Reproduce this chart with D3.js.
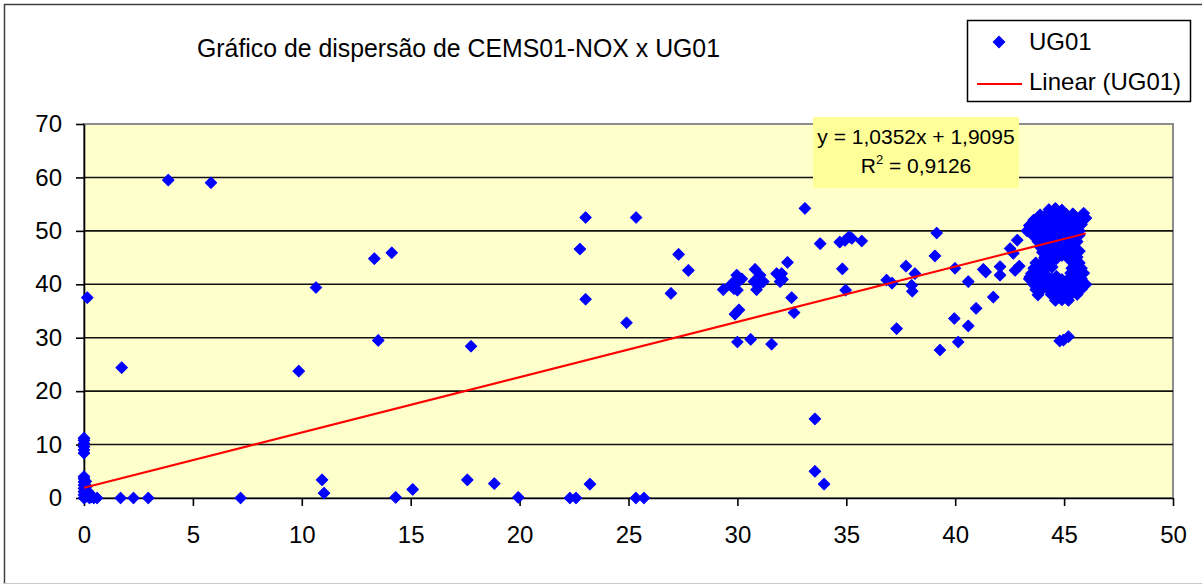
<!DOCTYPE html>
<html>
<head>
<meta charset="utf-8">
<script src="https://cdn.jsdelivr.net/npm/d3@7"></script>
<style>
  body { margin: 0; background: #fff; }
  text { font-family: "Liberation Sans", Arial, sans-serif; fill: #000; }
</style>
</head>
<body>
<div id="chart"></div>
<script>
// Data
const chartTitle = "Gráfico de dispersão de CEMS01-NOX x UG01"
const seriesName = "UG01"
const trendName = "Linear (UG01)"
const xTicks = [0, 5, 10, 15, 20, 25, 30, 35, 40, 45, 50]
const yTicks = [0, 10, 20, 30, 40, 50, 60, 70]
const trendSlope = 1.0352
const trendIntercept = 1.9095
const equationText = "y = 1,0352x + 1,9095"
const r2Text = "0,9126"

// [CEMS01-NOX, UG01] pairs
const ug01 = [
  [0, 0], [0, 0.6], [0, 1.2], [0, 1.8], [0, 2.4], [0, 3.0], [0, 3.6], [0, 4.0],
  [0.1, 0.3], [0.12, 2.2], [0.18, 1.2], [0.25, 0], [0.3, 0.7], [0.45, 0], [0.6, 0],
  [0.08, 3.1], [0.35, 0.2],
  [0, 8.4], [0, 9.0], [0, 9.6], [0, 10.2], [0, 10.8], [0, 11.2],
  [0.15, 37.5],
  [1.68, 0], [2.27, 0], [2.95, 0], [7.19, 0],
  [1.73, 24.4], [3.87, 59.5], [5.83, 59.0], [9.86, 23.75], [10.65, 39.4],
  [10.93, 3.4], [11.02, 0.9], [13.33, 44.8], [14.13, 45.9], [13.51, 29.5],
  [14.31, 0.1], [15.09, 1.6], [17.6, 3.4], [17.77, 28.4], [18.84, 2.7], [19.94, 0.1],
  [22.31, 0], [22.59, 0], [22.77, 46.6], [23.03, 52.5], [23.03, 37.2], [23.23, 2.6],
  [24.91, 32.8], [25.35, 52.5], [25.34, 0], [25.71, 0],
  [26.95, 38.3], [27.3, 45.6], [27.75, 42.6],
  [29.35, 39.0], [29.7, 39.8], [29.74, 40.1], [29.97, 41.7], [30.04, 40.5], [30.0, 38.9],
  [29.84, 39.2], [30.2, 41.0], [29.9, 40.6],
  [30.81, 42.8], [31.04, 41.7], [31.19, 40.5], [30.88, 39.0], [30.76, 40.5], [31.0, 40.0],
  [31.8, 42.0], [32.03, 42.0], [31.96, 40.5], [32.07, 40.9], [32.3, 44.1], [32.49, 37.5], [32.6, 34.7],
  [30.07, 35.2], [29.89, 34.4], [30.0, 29.2], [30.61, 29.7], [31.57, 28.8],
  [33.1, 54.2], [33.8, 47.6], [34.7, 47.9], [34.94, 48.2], [35.12, 48.9], [35.25, 48.6],
  [35.71, 48.1], [34.82, 42.9], [34.97, 38.9],
  [33.56, 14.8], [33.56, 5.0], [33.98, 2.6],
  [36.85, 40.8], [37.1, 40.2], [37.31, 31.7], [37.74, 43.4], [38.15, 42.0], [38.0, 39.8],
  [38.03, 38.7], [39.07, 45.3], [39.15, 49.6], [39.3, 27.7],
  [39.99, 43.0], [40.6, 40.5], [40.96, 35.5], [39.96, 33.6], [40.6, 32.2], [40.14, 29.2],
  [41.75, 37.6], [41.29, 42.8], [41.4, 42.3], [42.06, 43.3], [42.06, 41.7], [42.75, 42.6],
  [42.94, 43.4], [42.52, 46.7], [42.67, 45.8], [42.85, 48.25], [43.43, 41.4],
  // dense cluster, upper part
  [44.3, 54.0], [44.6, 54.2], [44.9, 53.9],
  [43.9, 53.0], [44.2, 53.1], [44.5, 53.2], [44.8, 53.0], [45.1, 53.1], [45.4, 53.2], [45.9, 53.3],
  [43.6, 52.0], [43.9, 52.0], [44.2, 52.1], [44.5, 52.0], [44.8, 52.1], [45.1, 52.0], [45.4, 52.1], [45.7, 52.2], [46.0, 52.4],
  [43.4, 51.0], [43.7, 51.1], [44.0, 51.0], [44.3, 51.1], [44.6, 51.0], [44.9, 51.1], [45.2, 51.0], [45.5, 51.1], [45.8, 51.2],
  [43.3, 50.0], [43.6, 50.1], [43.9, 50.0], [44.2, 50.1], [44.5, 50.0], [44.8, 50.1], [45.1, 50.0], [45.4, 50.2], [45.7, 50.0],
  [43.6, 49.0], [43.9, 49.1], [44.2, 49.0], [44.5, 49.1], [44.8, 49.0], [45.1, 49.1], [45.4, 49.0], [45.7, 49.2],
  [43.8, 48.0], [44.1, 48.1], [44.4, 48.0], [44.7, 48.1], [45.0, 48.0], [45.3, 48.1], [45.6, 48.0],
  [43.9, 47.0], [44.2, 47.1], [44.5, 47.0], [44.8, 47.1], [45.1, 47.0], [45.4, 47.1],
  [44.0, 46.0], [44.3, 46.1], [44.6, 46.0], [45.1, 46.1], [45.4, 46.0], [45.7, 46.2],
  [44.1, 45.0], [44.4, 45.1], [45.3, 45.0], [45.6, 45.1], [44.9, 45.4], [44.65, 44.8], [45.2, 44.8],
  // dense cluster, lower part
  [43.7, 44.0], [44.0, 44.1], [44.3, 44.0], [45.4, 44.1], [45.7, 44.0],
  [43.6, 43.0], [43.9, 43.1], [44.2, 43.0], [44.45, 43.2], [45.35, 43.0], [45.5, 43.1], [45.8, 43.0],
  [43.5, 42.0], [43.8, 42.1], [44.1, 42.0], [45.3, 42.1], [45.6, 42.0], [45.9, 42.1],
  [43.4, 41.0], [43.7, 41.1], [44.0, 41.0], [44.4, 41.1], [44.65, 41.5], [44.9, 40.9], [45.2, 41.0], [45.5, 41.1], [45.8, 41.0],
  [43.6, 40.0], [43.9, 40.1], [44.2, 40.0], [44.5, 40.1], [44.8, 40.0], [45.1, 40.1], [45.4, 40.0], [45.7, 40.1], [46.0, 40.0],
  [43.7, 39.0], [44.0, 39.1], [44.3, 39.0], [44.6, 39.1], [44.9, 39.0], [45.2, 39.1], [45.5, 39.0], [45.8, 39.1],
  [43.8, 38.0], [44.4, 38.1], [44.7, 38.0], [45.0, 38.1], [45.3, 38.0], [45.6, 38.1],
  [44.6, 37.0], [44.9, 37.1], [45.2, 37.0],
  [44.97, 29.55], [45.2, 30.2], [44.8, 29.4]
]

// dimensions
let dimensions = {
    width: 1202,
    height: 585,
    margin: { top: 124, right: 29, bottom: 87, left: 84 },
}
dimensions.boundedWidth = dimensions.width - dimensions.margin.left - dimensions.margin.right
dimensions.boundedHeight = dimensions.height - dimensions.margin.top - dimensions.margin.bottom

const wrapper = d3.select("#chart")
    .append("svg")
    .attr("width", dimensions.width)
    .attr("height", dimensions.height)

// outer chart frame
wrapper.append("path")
    .attr("d", "M4.5,584 V4.5 H1202")
    .attr("fill", "none")
    .attr("stroke", "#404040")
    .attr("stroke-width", 1.5)
wrapper.append("line")
    .attr("x1", 4).attr("x2", 1202).attr("y1", 583.5).attr("y2", 583.5)
    .attr("stroke", "#c8c8c8")

wrapper.append("text")
    .attr("x", 197)
    .attr("y", 57)
    .attr("font-size", 25)
    .attr("textLength", 523)
    .attr("lengthAdjust", "spacingAndGlyphs")
    .text(chartTitle)

const bounds = wrapper.append("g")
    .attr("transform", `translate(${dimensions.margin.left},${dimensions.margin.top})`)

// scales
const xScale = d3.scaleLinear()
    .domain([0, 50])
    .range([0, dimensions.boundedWidth])

const yScale = d3.scaleLinear()
    .domain([0, 70])
    .range([dimensions.boundedHeight, 0])

// plot area
bounds.append("rect")
    .attr("width", dimensions.boundedWidth)
    .attr("height", dimensions.boundedHeight)
    .attr("fill", "#FFFFCC")
    .attr("stroke", "#8c8c8c")
    .attr("stroke-width", 2)

bounds.append("g")
    .selectAll("line")
    .data(yTicks.filter(d => d > 0 && d < 70))
    .join("line")
    .attr("x1", 0)
    .attr("x2", dimensions.boundedWidth)
    .attr("y1", d => yScale(d))
    .attr("y2", d => yScale(d))
    .attr("stroke", "#111")
    .attr("stroke-width", 1.6)

// axes
const yAxis = bounds.append("g")
    .call(d3.axisLeft(yScale).tickValues(yTicks).tickSize(8).tickSizeOuter(0).tickPadding(14))
const xAxis = bounds.append("g")
    .attr("transform", `translate(0,${dimensions.boundedHeight})`)
    .call(d3.axisBottom(xScale).tickValues(xTicks).tickSize(8).tickSizeOuter(0).tickPadding(20))

for (const ax of [xAxis, yAxis]) {
    ax.select(".domain").attr("stroke", "#000").attr("stroke-width", 1.6)
    ax.selectAll(".tick line").attr("stroke", "#000").attr("stroke-width", 1.6)
    ax.selectAll(".tick text")
        .attr("font-size", 24)
        .attr("font-family", "\"Liberation Sans\", Arial, sans-serif")
        .attr("fill", "#000")
}

// markers
const diamond = d3.symbol(d3.symbolSquare, 66)
bounds.append("g")
    .selectAll("path")
    .data(ug01)
    .join("path")
    .attr("d", diamond)
    .attr("transform", d => `translate(${xScale(d[0])},${yScale(d[1])}) rotate(45)`)
    .attr("fill", "#0000FF")
    .attr("stroke", "#0000FF")
    .attr("stroke-width", 1)
    .attr("stroke-linejoin", "round")

// linear trend line
const xMax = d3.max(ug01, d => d[0])
const trendPoints = [0, xMax].map(x => [x, trendSlope * x + trendIntercept])
bounds.append("path")
    .attr("d", d3.line().x(d => xScale(d[0])).y(d => yScale(d[1]))(trendPoints))
    .attr("fill", "none")
    .attr("stroke", "#FF0000")
    .attr("stroke-width", 2)

// equation label
const eq = wrapper.append("g")
eq.append("rect")
    .attr("x", 813).attr("y", 117)
    .attr("width", 206).attr("height", 71)
    .attr("fill", "#FFFF99")
eq.append("text")
    .attr("x", 916).attr("y", 143.5)
    .attr("text-anchor", "middle")
    .attr("font-size", 21)
    .text(equationText)
const r2 = eq.append("text")
    .attr("x", 916).attr("y", 172.5)
    .attr("text-anchor", "middle")
    .attr("font-size", 21)
r2.append("tspan").text("R")
r2.append("tspan").attr("font-size", 13).attr("dy", -9).text("2")
r2.append("tspan").attr("dy", 9).text(" = " + r2Text)

// legend
const legend = wrapper.append("g")
legend.append("rect")
    .attr("x", 967.5).attr("y", 20.5)
    .attr("width", 223).attr("height", 81)
    .attr("fill", "#fff")
    .attr("stroke", "#000")
    .attr("stroke-width", 1.5)
legend.append("path")
    .attr("d", diamond)
    .attr("transform", "translate(999,42) rotate(45)")
    .attr("fill", "#0000FF")
    .attr("stroke", "#0000FF")
    .attr("stroke-width", 1)
legend.append("text")
    .attr("x", 1029).attr("y", 50)
    .attr("font-size", 24)
    .text(seriesName)
legend.append("line")
    .attr("x1", 977).attr("x2", 1022)
    .attr("y1", 84).attr("y2", 84)
    .attr("stroke", "#FF0000")
    .attr("stroke-width", 2)
legend.append("text")
    .attr("x", 1029).attr("y", 90)
    .attr("font-size", 24)
    .text(trendName)
</script>
</body>
</html>
